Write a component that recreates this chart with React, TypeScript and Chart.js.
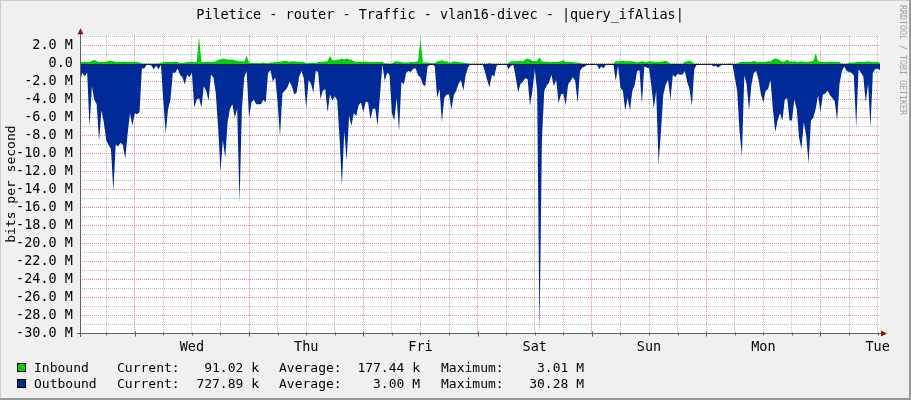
import React, { useEffect, useRef } from 'react';
import { Chart, registerables } from 'chart.js';

Chart.register(...registerables);

const FONT = "'DejaVu Sans Mono', monospace";
const TITLE = 'Piletice - router - Traffic - vlan16-divec - |query_ifAlias|';
const Y_TITLE = 'bits per second';
const WATERMARK = 'RRDTOOL / TOBI OETIKER';

// time axis: hours since Tuesday 00:00, samples every 30 minutes
const START_HOUR = 12.5;
const END_HOUR = 180.5;
const STEP_HOURS = 0.5;
const DAY_LABELS = ['Wed', 'Thu', 'Fri', 'Sat', 'Sun', 'Mon', 'Tue'];
const Y_MIN = -30;
const Y_MAX = 3.2;

// Outbound traffic (Mbit/s, drawn negative)
const OUT_TUE_A = [-2.0, -1.0, -1.4, -1.0, -7.0, -2.5, -4.0, -4.5, -8.6, -5.2, -6.5, -8.5, -9.0, -9.5, -14.2, -9.0, -9.2, -8.8, -9.0, -10.6, -7.8, -5.5, -6.9];
const OUT_WED = [
  -5.5, -5.6, -5.4, -0.5, -0.5, -0.1, -0.05, -0.2, -0.6, -0.2, -0.6, -0.1,
  -4.2, -7.8, -5.0, -4.0, -1.0, -1.0, -0.5, -1.2, -1.5, -2.3, -1.2, -1.5,
  -1.0, -4.9, -4.0, -3.8, -4.9, -2.5, -3.0, -4.1, -1.2, -1.5, -3.2, -7.0,
  -12.0, -8.5, -10.5, -6.5, -5.0, -4.5, -6.0, -5.0, -15.5, -5.0, -1.5, -0.8,
];
const OUT_THU = [
  -6.0, -4.3, -4.0, -4.5, -4.5, -4.5, -4.0, -4.3, -1.0, -0.7, -2.0, -1.5,
  -4.3, -8.1, -3.3, -3.0, -2.7, -2.0, -2.5, -3.4, -3.2, -1.5, -0.8, -1.6,
  -5.0, -1.8, -2.2, -3.2, -0.8, -0.9, -3.9, -3.0, -2.8, -5.4, -3.4, -4.1,
  -3.6, -4.0, -8.2, -13.6, -7.5, -10.8, -5.8, -6.9, -5.5, -5.8, -4.6, -4.3,
];
const OUT_FRI = [
  -5.4, -4.2, -4.3, -6.2, -5.0, -5.0, -6.9, -3.5, -0.1, -1.9, -1.0, -1.2,
  -5.5, -6.3, -3.8, -7.5, -2.0, -2.3, -1.0, -0.8, -0.9, -0.5, -0.5, -1.3,
  -1.5, -2.3, -2.5, -0.3, -0.1, 0, -0.3, -3.8, -2.8, -6.5, -3.8, -3.4,
  -3.4, -5.1, -3.5, -3.0, -2.2, -1.8, -3.0, -1.2, -0.4, 0, 0, 0,
];
const OUT_SAT = [
  0, 0, 0, -0.8, -1.8, -2.6, -1.2, -1.4, -0.2, 0, 0, 0,
  0, -0.6, -0.2, -0.1, -1.5, -3.2, -2.2, -2.0, -1.6, -1.7, -4.7, -3.0,
  -0.6, -3.0, -30.2, -8.5, -3.0, -2.4, -2.1, -1.2, -2.5, -1.8, -4.4, -3.4,
  -3.3, -4.6, -2.3, -1.9, -1.5, -1.9, -4.4, -0.8, -0.4, -0.3, -0.1, 0,
];
const OUT_SUN = [
  0, 0, 0, -0.6, -0.3, -0.5, 0, 0, 0, 0, -1.9, -0.2,
  -2.7, -3.0, -5.2, -3.8, -5.2, -3.0, -2.3, -0.8, -0.7, -4.5, -0.3, -0.4,
  -0.5, -2.5, -5.0, -3.0, -11.2, -7.5, -3.4, -2.3, -1.8, -4.0, -1.2, -1.5,
  -1.1, -1.2, -1.2, -0.8, -2.0, -2.8, -4.7, -0.6, -0.1, 0, 0, 0,
];
const OUT_MON = [
  0, 0, 0, -0.3, -0.2, -0.4, -0.2, 0, 0, 0, 0, 0,
  -1.5, -3.0, -7.5, -10.3, -1.3, -2.3, -5.2, -2.3, -1.0, -0.8, -1.8, -3.4,
  -4.3, -3.0, -2.8, -1.8, -5.0, -7.6, -6.3, -5.5, -6.3, -4.0, -3.8, -6.3,
  -6.3, -4.0, -5.0, -8.2, -9.5, -6.5, -8.0, -11.1, -6.3, -6.0, -5.0, -3.5,
];
const OUT_TUE_B = [
  -5.4, -3.4, -3.3, -3.0, -3.5, -3.8, -4.2, -6.3, -2.2, -0.8, -0.3, -0.8,
  -0.9, -1.0, -1.3, -7.1, -0.6, -1.0, -1.4, -4.3, -2.2, -7.1, -1.0, -0.6, -0.5, -0.7,
];

// Inbound traffic (Mbit/s)
const IN_TUE_A = [0.2, 0.2, 0.25, 0.2, 0.2, 0.35, 0.45, 0.3, 0.2, 0.2, 0.2, 0.25, 0.35, 0.35, 0.3, 0.25, 0.25, 0.2, 0.25, 0.2, 0.2, 0.2, 0.2];
const IN_WED = [
  0.2, 0.2, 0.15, 0.05, 0.03, 0.03, 0.05, 0.05, 0.03, 0.05, 0.05, 0.1,
  0.2, 0.25, 0.2, 0.2, 0.2, 0.25, 0.2, 0.1, 0.1, 0.15, 0.2, 0.2,
  0.25, 0.2, 0.2, 3.01, 0.25, 0.2, 0.2, 0.25, 0.2, 0.2, 0.3, 0.45,
  0.5, 0.6, 0.55, 0.5, 0.45, 0.5, 0.4, 0.35, 0.3, 0.3, 0.3, 0.9,
];
const IN_THU = [
  0.15, 0.1, 0.1, 0.1, 0.1, 0.1, 0.15, 0.1, 0.1, 0.15, 0.15, 0.2,
  0.25, 0.25, 0.3, 0.35, 0.3, 0.25, 0.3, 0.3, 0.25, 0.25, 0.25, 0.2,
  0.1, 0.1, 0.1, 0.15, 0.1, 0.2, 0.25, 0.25, 0.3, 0.3, 0.9, 0.4,
  0.4, 0.45, 0.5, 0.6, 0.5, 0.6, 0.5, 0.45, 0.3, 0.25, 0.25, 0.25,
];
const IN_FRI = [
  0.25, 0.25, 0.2, 0.2, 0.2, 0.2, 0.2, 0.2, 0.25, 0.05, 0.05, 0.03,
  0.05, 0.25, 0.3, 0.25, 0.2, 0.15, 0.15, 0.15, 0.2, 0.2, 0.25, 0.3,
  2.9, 0.15, 0.15, 0.15, 0.1, 0.1, 0.1, 0.3, 0.3, 0.4, 0.3, 0.3,
  0.15, 0.15, 0.3, 0.25, 0.2, 0.15, 0.15, 0.1, 0.05, 0.02, 0.02, 0.02,
];
const IN_SAT = [
  0.02, 0.02, 0.02, 0.02, 0.02, 0.15, 0.03, 0.03, 0.03, 0.03, 0.03, 0.03,
  0.03, 0.1, 0.3, 0.3, 0.3, 0.3, 0.35, 0.3, 0.5, 0.6, 0.5, 0.35,
  0.3, 0.35, 0.75, 0.3, 0.25, 0.25, 0.25, 0.2, 0.2, 0.2, 0.25, 0.3,
  0.4, 0.25, 0.2, 0.2, 0.2, 0.15, 0.15, 0.1, 0.03, 0.03, 0.03, 0.03,
];
const IN_SUN = [
  0.03, 0.03, 0.03, 0.03, 0.03, 0.03, 0.03, 0.03, 0.03, 0.03, 0.3, 0.3,
  0.3, 0.35, 0.3, 0.3, 0.3, 0.3, 0.25, 0.15, 0.25, 0.3, 0.25, 0.2,
  0.3, 0.3, 0.25, 0.25, 0.25, 0.25, 0.3, 0.35, 0.25, 0.03, 0.03, 0.03,
  0.03, 0.03, 0.03, 0.25, 0.3, 0.35, 0.25, 0.01, 0.01, 0.01, 0.01, 0.01,
];
const IN_MON = [
  0.01, 0.01, 0.01, 0.01, 0.01, 0.01, 0.01, 0.01, 0.01, 0.01, 0.01, 0.01,
  0.01, 0.01, 0.2, 0.25, 0.2, 0.2, 0.25, 0.2, 0.35, 0.25, 0.2, 0.25,
  0.2, 0.25, 0.3, 0.3, 0.5, 0.6, 0.55, 0.4, 0.25, 0.3, 0.45, 0.3,
  0.25, 0.3, 0.25, 0.25, 0.3, 0.25, 0.25, 0.25, 0.3, 0.3, 1.15, 0.3,
];
const IN_TUE_B = [
  0.25, 0.2, 0.2, 0.2, 0.25, 0.2, 0.2, 0.2, 0.2, 0.03, 0.03, 0.03,
  0.15, 0.15, 0.15, 0.2, 0.2, 0.25, 0.2, 0.25, 0.3, 0.25, 0.2, 0.2, 0.25, 0.1,
];

const OUTBOUND = [...OUT_TUE_A, ...OUT_WED, ...OUT_THU, ...OUT_FRI, ...OUT_SAT, ...OUT_SUN, ...OUT_MON, ...OUT_TUE_B];
const INBOUND = [...IN_TUE_A, ...IN_WED, ...IN_THU, ...IN_FRI, ...IN_SAT, ...IN_SUN, ...IN_MON, ...IN_TUE_B];

const LEGEND_ROWS = [
  { name: 'Inbound', color: '#00CF00', current: '91.02 k', average: '177.44 k', maximum: '3.01 M' },
  { name: 'Outbound', color: '#002A97', current: '727.89 k', average: '3.00 M', maximum: '30.28 M' },
];

const GRID = '#bdbdbd';
const MGRID = '#e88888';

const rrdPlugin = {
  id: 'rrdPlugin',
  beforeDraw(chart: any) {
    const { ctx, chartArea: a, width, height } = chart;
    ctx.save();
    ctx.fillStyle = '#F0F0F0';
    ctx.fillRect(0, 0, width, height);
    ctx.fillStyle = '#CBCBCB';
    ctx.fillRect(0, 0, width, 1);
    ctx.fillRect(0, 0, 1, height);
    ctx.fillStyle = '#999999';
    ctx.fillRect(width - 2, 0, 2, height);
    ctx.fillRect(0, height - 2, width, 2);
    ctx.fillStyle = '#FFFFFF';
    ctx.fillRect(a.left, a.top, a.right - a.left, a.bottom - a.top);
    ctx.restore();
  },
  afterDatasetsDraw(chart: any) {
    const { ctx, chartArea: a, scales } = chart;
    ctx.save();
    const y0 = Math.round(scales.y.getPixelForValue(0));
    ctx.fillStyle = '#0c1a5e';
    ctx.fillRect(a.left, y0, a.right - a.left, 1);

    const ax = Math.round(a.left) + 0.5;
    const ay = Math.round(a.bottom) + 0.5;
    ctx.strokeStyle = '#606060';
    ctx.lineWidth = 1;
    ctx.beginPath();
    ctx.moveTo(a.left - 3, ay);
    ctx.lineTo(a.right + 2, ay);
    ctx.moveTo(ax, a.top - 2);
    ctx.lineTo(ax, a.bottom + 4);
    scales.x.ticks.forEach((t: any) => {
      const px = Math.round(scales.x.getPixelForValue(t.value)) + 0.5;
      const major = t.value % 24 === 0;
      ctx.moveTo(px, ay - (major ? 2 : 1));
      ctx.lineTo(px, ay + (major ? 3 : 2));
    });
    ctx.stroke();

    ctx.fillStyle = '#9a1010';
    ctx.beginPath();
    ctx.moveTo(ax, a.top - 7);
    ctx.lineTo(ax - 3, a.top - 1);
    ctx.lineTo(ax + 3, a.top - 1);
    ctx.closePath();
    ctx.fill();
    ctx.beginPath();
    ctx.moveTo(a.right + 7, ay);
    ctx.lineTo(a.right + 1, ay - 3);
    ctx.lineTo(a.right + 1, ay + 3);
    ctx.closePath();
    ctx.fill();
    ctx.restore();
  },
};

export default function App() {
  const canvasRef = useRef<HTMLCanvasElement | null>(null);

  useEffect(() => {
    if (!canvasRef.current) return;
    const toPoints = (arr: number[]) => arr.map((v, i) => ({ x: START_HOUR + i * STEP_HOURS, y: v }));
    const chart = new Chart(canvasRef.current, {
      type: 'line',
      data: {
        datasets: [
          {
            label: 'Inbound',
            data: toPoints(INBOUND),
            backgroundColor: '#00CF00',
            borderColor: 'rgba(0,0,0,0)',
            borderWidth: 0,
            fill: 'origin',
            pointRadius: 0,
            tension: 0,
          },
          {
            label: 'Outbound',
            data: toPoints(OUTBOUND),
            backgroundColor: '#002A97',
            borderColor: 'rgba(0,0,0,0)',
            borderWidth: 0,
            fill: 'origin',
            pointRadius: 0,
            tension: 0,
          },
        ],
      },
      options: {
        animation: false,
        responsive: false,
        devicePixelRatio: 1,
        events: [],
        layout: { padding: { left: 0, right: 31, top: 0, bottom: 0 } },
        plugins: {
          legend: { display: false },
          tooltip: { enabled: false },
          title: {
            display: true,
            text: TITLE,
            color: '#000',
            font: { family: FONT, size: 13.5, weight: 'normal', lineHeight: 1.2 },
            padding: { top: 7, bottom: 12 },
          },
        },
        scales: {
          x: {
            type: 'linear',
            min: START_HOUR,
            max: END_HOUR,
            afterFit: (s: any) => { s.height = 67; },
            afterBuildTicks: (s: any) => {
              const ticks = [];
              for (let h = 18; h <= 180; h += 6) ticks.push({ value: h });
              s.ticks = ticks;
            },
            grid: {
              color: (c: any) => (c.tick && c.tick.value % 24 === 0 ? MGRID : GRID),
              lineWidth: 1,
              drawTicks: false,
            },
            border: { display: false, dash: [1, 1] },
            ticks: {
              autoSkip: false,
              maxRotation: 0,
              padding: 6,
              color: '#000',
              font: { family: FONT, size: 13.5 },
              callback: (v: any) => {
                const n = Number(v);
                if ((n - 12) % 24 !== 0) return '';
                return DAY_LABELS[(n - 36) / 24] ?? '';
              },
            },
          },
          y: {
            type: 'linear',
            min: Y_MIN,
            max: Y_MAX,
            afterFit: (s: any) => { s.width = 80; },
            afterBuildTicks: (s: any) => {
              const ticks = [];
              for (let v = Y_MIN; v <= 3; v += 1) ticks.push({ value: v });
              s.ticks = ticks;
            },
            grid: {
              color: (c: any) => (c.tick && c.tick.value % 2 === 0 ? MGRID : GRID),
              lineWidth: 1,
              drawTicks: false,
            },
            border: { display: false, dash: [1, 1] },
            title: {
              display: true,
              text: Y_TITLE,
              color: '#000',
              font: { family: FONT, size: 13 },
              padding: { top: 4, bottom: 0 },
            },
            ticks: {
              autoSkip: false,
              padding: 7,
              color: '#000',
              font: { family: FONT, size: 13.5 },
              callback: (v: any) => {
                const n = Number(v);
                if (n % 2 !== 0) return '';
                return n === 0 ? '0.0' : `${n.toFixed(1)} M`;
              },
            },
          },
        },
      },
      plugins: [rrdPlugin],
    } as any);
    return () => chart.destroy();
  }, []);

  const textStyle: React.CSSProperties = {
    position: 'absolute',
    fontFamily: FONT,
    fontSize: 13,
    lineHeight: '16px',
    color: '#000',
    whiteSpace: 'pre',
  };

  return (
    <div style={{ position: 'absolute', left: 0, top: 0, width: 911, height: 400, overflow: 'hidden' }}>
      <canvas ref={canvasRef} width={911} height={400} style={{ position: 'absolute', left: 0, top: 0 }} />
      {LEGEND_ROWS.map((r, k) => {
        const cy = 368 + k * 16;
        const top = cy - 8;
        return (
          <React.Fragment key={r.name}>
            <div style={{ position: 'absolute', left: 17, top: cy - 5, width: 7, height: 7, background: r.color, border: '1px solid #000' }} />
            <span style={{ ...textStyle, left: 34, top }}>{r.name}</span>
            <span style={{ ...textStyle, left: 117, top }}>Current:</span>
            <span style={{ ...textStyle, right: 911 - 259, top }}>{r.current}</span>
            <span style={{ ...textStyle, left: 279, top }}>Average:</span>
            <span style={{ ...textStyle, right: 911 - 420, top }}>{r.average}</span>
            <span style={{ ...textStyle, left: 441, top }}>Maximum:</span>
            <span style={{ ...textStyle, right: 911 - 584, top }}>{r.maximum}</span>
          </React.Fragment>
        );
      })}
      <div
        style={{
          position: 'absolute',
          left: 898,
          top: 5,
          writingMode: 'vertical-rl',
          fontFamily: FONT,
          fontSize: 8.3,
          lineHeight: '10px',
          color: '#a0a0a0',
          whiteSpace: 'pre',
        }}
      >
        {WATERMARK}
      </div>
    </div>
  );
}
